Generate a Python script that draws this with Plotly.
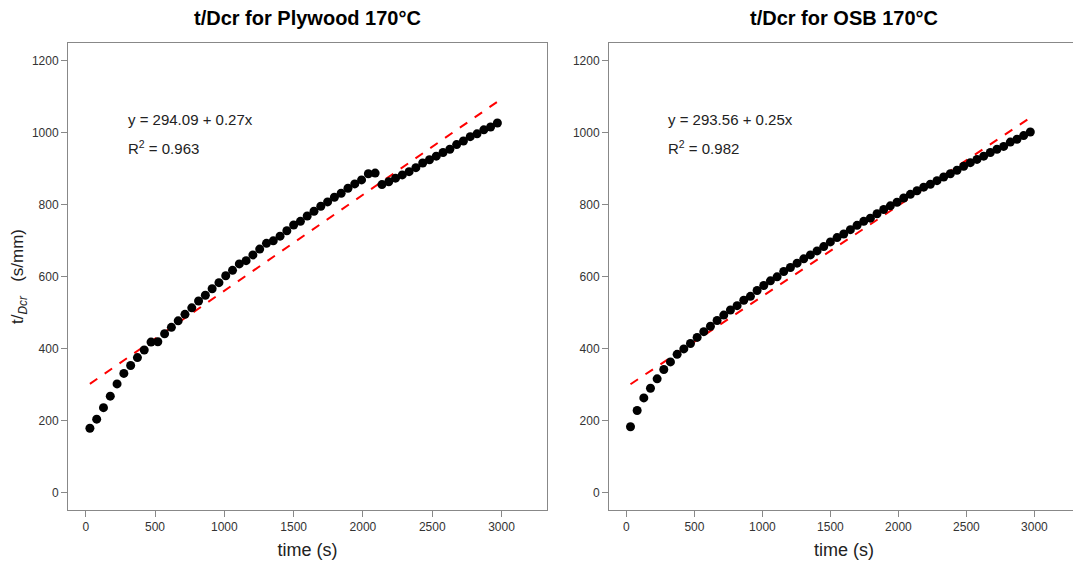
import numpy as np
import plotly.graph_objects as go
from plotly.subplots import make_subplots

# time (s), same sampling for both panels
time_s = [30, 79, 128, 177, 226, 275, 324, 373, 422, 471, 520, 569, 618, 667, 716,
          765, 814, 863, 912, 961, 1010, 1059, 1108, 1157, 1206, 1255, 1304, 1353,
          1402, 1451, 1500, 1549, 1598, 1647, 1696, 1745, 1794, 1843, 1892, 1941,
          1990, 2039, 2088, 2137, 2186, 2235, 2284, 2333, 2382, 2431, 2480, 2529,
          2578, 2627, 2676, 2725, 2774, 2823, 2872, 2921, 2970]

# t/Dcr (s/mm), plywood 170°C
plywood = [179, 204, 236, 268, 302, 331, 353, 375, 396, 418, 419, 441, 459, 477, 495,
           513, 532, 548, 566, 583, 602, 617, 635, 644, 660, 676, 692, 699, 712, 727,
           743, 753, 768, 781, 795, 807, 820, 831, 845, 857, 868, 885, 887, 855, 863,
           873, 882, 891, 902, 915, 924, 934, 944, 953, 966, 976, 988, 996, 1007,
           1015, 1026]

# t/Dcr (s/mm), OSB 170°C
osb = [183, 228, 263, 290, 316, 342, 363, 384, 399, 414, 431, 447, 462, 478, 493,
       507, 519, 534, 545, 561, 575, 588, 599, 614, 625, 637, 649, 660, 671, 683,
       696, 708, 718, 730, 742, 753, 762, 774, 786, 796, 806, 818, 828, 838, 848,
       856, 866, 876, 885, 895, 906, 916, 925, 934, 944, 953, 961, 973, 981, 991,
       1001]

titles = ["t/Dcr for Plywood 170°C", "t/Dcr for OSB 170°C"]
fit_text = [("y = 294.09 + 0.27x", "0.963"), ("y = 293.56 + 0.25x", "0.982")]

FONT = "Liberation Sans, Arial, sans-serif"
W, H = 1073, 558   # page body has an 8px margin

fig = make_subplots(rows=1, cols=2, horizontal_spacing=0.06)

for i, ys in enumerate([plywood, osb]):
    col = i + 1
    b, a = np.polyfit(time_s, ys, 1)
    xl = [time_s[0], time_s[-1]]
    fig.add_trace(go.Scatter(x=xl, y=[a + b * v for v in xl], mode="lines",
                             line=dict(color="red", width=2, dash="dash"),
                             showlegend=False), row=1, col=col)
    fig.add_trace(go.Scatter(x=time_s, y=ys, mode="markers",
                             marker=dict(color="black", size=9),
                             showlegend=False), row=1, col=col)
    xa = "x" if i == 0 else "x2"
    ya = "y" if i == 0 else "y2"
    fig.add_annotation(x=290, y=1035, xref=xa, yref=ya, text=fit_text[i][0],
                       showarrow=False, xanchor="left", font=dict(size=15, color="#222"))
    fig.add_annotation(x=290, y=958, xref=xa, yref=ya,
                       text="R<sup>2</sup> = " + fit_text[i][1],
                       showarrow=False, xanchor="left", font=dict(size=15, color="#222"))

fig.update_xaxes(range=[-128, 3328], tickvals=[0, 500, 1000, 1500, 2000, 2500, 3000],
                 showline=True, mirror=True, linecolor="#888", linewidth=1,
                 ticks="outside", ticklen=6, tickcolor="#888", showgrid=False,
                 zeroline=False, tickfont=dict(size=12, color="#333"),
                 title=dict(text="time (s)", font=dict(size=18, color="#222"), standoff=9))
fig.update_yaxes(range=[-48, 1248], tickvals=[0, 200, 400, 600, 800, 1000, 1200],
                 showline=True, mirror=True, linecolor="#888", linewidth=1,
                 ticks="outside", ticklen=6, tickcolor="#888", showgrid=False,
                 zeroline=False, tickfont=dict(size=12, color="#333"))
fig.update_yaxes(title=dict(text="t/<sub><i>Dcr</i></sub>   (s/mm)",
                            font=dict(size=17, color="#222"), standoff=10), row=1, col=1)

fig.update_layout(
    width=W, height=H,
    margin=dict(l=0, r=0, t=0, b=0),
    paper_bgcolor="white", plot_bgcolor="white",
    font=dict(family=FONT),
    xaxis=dict(domain=[60 / W, 539 / W]),
    xaxis2=dict(domain=[601 / W, 1071 / W]),
    yaxis=dict(domain=[(H - 502) / H, (H - 35) / H]),
    yaxis2=dict(domain=[(H - 502) / H, (H - 35) / H]),
)

for i, cx in enumerate([(60 + 539) / 2 / W, (601 + 1071) / 2 / W]):
    fig.add_annotation(x=cx, y=1 - 10 / H, xref="paper", yref="paper",
                       text="<b>" + titles[i] + "</b>", showarrow=False,
                       font=dict(size=20, color="black"), xanchor="center", yanchor="middle")

fig.write_html("out.html")
